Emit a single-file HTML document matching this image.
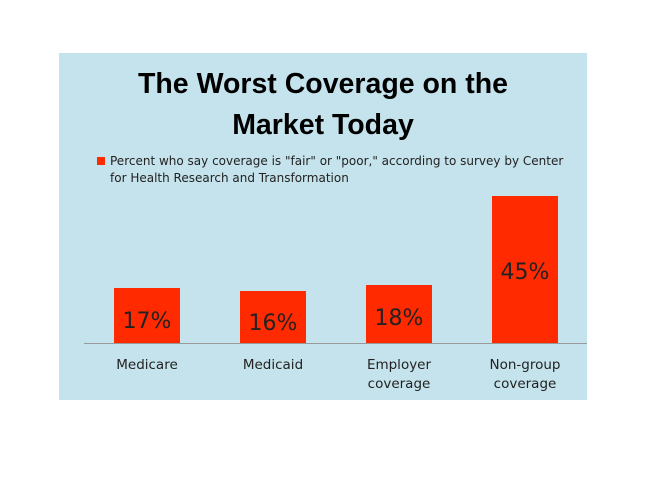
<!DOCTYPE html>
<html><head><style>
body{margin:0;background:#fff;width:660px;height:495px;position:relative;font-family:"DejaVu Sans","Liberation Sans",sans-serif;overflow:hidden}
#p{position:absolute;left:59px;top:53px;width:528px;height:347px;background:#c5e3ec}
.t{position:absolute;left:0;width:528px;text-align:center;font-family:"Liberation Sans",sans-serif;font-weight:bold;font-size:28.5px;color:#000}
.b{position:absolute;background:#ff2a00;width:66px}
.v{position:absolute;width:66px;text-align:center;font-size:22px;color:#222}
.l{position:absolute;width:120px;text-align:center;font-size:13.5px;line-height:19px;color:#222}
</style></head><body>
<div id="p">
<div class="t" style="top:15px">The Worst Coverage on the</div>
<div class="t" style="top:56px">Market Today</div>
<div style="position:absolute;left:38px;top:104px;width:8px;height:8px;background:#ff2a00"></div>
<div style="position:absolute;left:51px;top:100px;font-size:12px;line-height:17px;color:#222;width:470px">Percent who say coverage is "fair" or "poor," according to survey by Center for Health Research and Transformation</div>
<div style="position:absolute;left:25px;top:290px;width:503px;height:1px;background:#999"></div>
<div class="b" style="left:55px;top:235px;height:55px"></div>
<div class="b" style="left:181px;top:238px;height:52px"></div>
<div class="b" style="left:307px;top:232px;height:58px"></div>
<div class="b" style="left:433px;top:143px;height:147px"></div>
<div class="v" style="left:55px;top:256px">17%</div>
<div class="v" style="left:181px;top:258px">16%</div>
<div class="v" style="left:307px;top:253px">18%</div>
<div class="v" style="left:433px;top:207px">45%</div>
<div class="l" style="left:28px;top:303px">Medicare</div>
<div class="l" style="left:154px;top:303px">Medicaid</div>
<div class="l" style="left:280px;top:303px">Employer<br>coverage</div>
<div class="l" style="left:406px;top:303px">Non-group<br>coverage</div>
</div>
</body></html>
